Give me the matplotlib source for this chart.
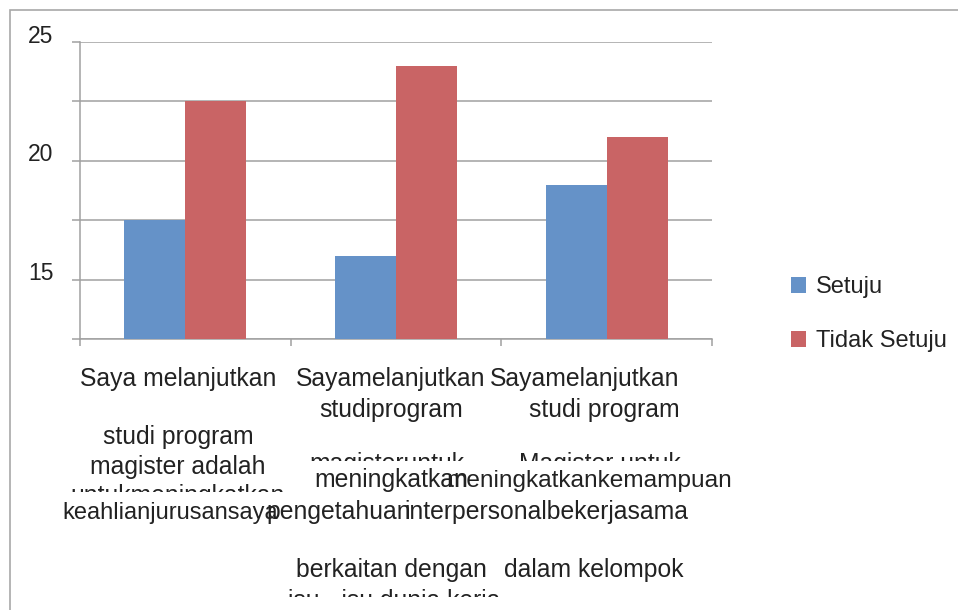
import matplotlib
matplotlib.use('Agg')
from matplotlib import pyplot as plt
from matplotlib import transforms
from matplotlib.patches import Rectangle
import numpy as np

# values
categories = ['Saya melanjutkan studi program magister (keahlian)',
              'Saya melanjutkan studi program magister (pengetahuan)',
              'Saya melanjutkan studi program magister (kerjasama)']
setuju = [17.5, 16, 19]
tidak_setuju = [22.5, 24, 21]
series_names = ['Setuju', 'Tidak Setuju']
yticks = [12.5, 15, 17.5, 20, 22.5, 25]
ytick_labels = ['', '15', '', '20', '', '25']

# the category labels come out garbled in the original, line by line
label_lines = [
    'Saya melanjutkan', 'studi program', 'magister adalah', 'untukmeningkatkan', 'keahlianjurusansaya',
    'Sayamelanjutkan', 'studiprogram', 'magisteruntuk', 'meningkatkan', 'pengetahuan',
    'berkaitan dengan', 'isu - isu dunia kerja',
    'Sayamelanjutkan', 'studi program', 'Magister untuk', 'meningkatkankemampuan',
    'interpersonalbekerjasama', 'dalam kelompok',
]
# layout of those lines: (x px, baseline px, align, clip below px or None, font size)
label_layout = [
    (178, 386, 'center', None, 17.8), (178, 444, 'center', None, 17.8), (178, 474, 'center', None, 17.8),
    (178, 503, 'center', 492, 17.8), (62, 519, 'left', None, 17.0),
    (391, 386, 'center', None, 17.8), (391, 417, 'center', None, 17.8), (387, 471, 'center', 461, 17.8),
    (391, 487, 'center', None, 17.8), (266, 519, 'left', None, 17.8),
    (296, 577, 'left', None, 17.8), (288, 608, 'left', 597, 17.8),
    (585, 386, 'center', None, 17.8), (604, 417, 'center', None, 17.8), (600, 471, 'center', 461, 17.8),
    (446, 487, 'left', None, 17.6), (404, 519, 'left', None, 17.8), (684, 577, 'right', None, 17.8),
]

blue = '#6592C8'
red = '#C96465'
grey = '#A0A0A0'
txt = '#222222'
W, H = 958, 610

plt.rcParams['font.family'] = ['Liberation Sans', 'DejaVu Sans']
fig = plt.figure(figsize=(W / 100, H / 100), dpi=100)

# outer frame of the pasted chart
fig.patches.append(Rectangle((10 / W, -0.05), 1.1, 1 - 10 / H + 0.05, transform=fig.transFigure,
                             fill=False, edgecolor='#A8A8A8', lw=1.2))

ax = fig.add_axes([80 / W, 1 - 339 / H, (712 - 80) / W, (339 - 42) / H])
x = np.arange(len(categories))
bw = 0.29
ax.bar(x - bw / 2, setuju, bw, color=blue, label=series_names[0], zorder=3)
ax.bar(x + bw / 2, tidak_setuju, bw, color=red, label=series_names[1], zorder=3)

ax.set_xlim(-0.5, len(categories) - 0.5)
ax.set_ylim(12.5, 25)
ax.set_yticks(yticks)
ax.set_yticklabels(ytick_labels, fontsize=16.5, color=txt)
ax.set_xticks(np.arange(len(categories) + 1) - 0.5)
ax.set_xticklabels([])
ax.yaxis.grid(True, color=grey, lw=1.1, zorder=0)
for s in ['top', 'right']:
    ax.spines[s].set_visible(False)
for s in ['left', 'bottom']:
    ax.spines[s].set_color(grey)
    ax.spines[s].set_linewidth(1.1)
ax.tick_params(axis='y', length=6, width=1.1, color=grey, pad=13)
ax.tick_params(axis='x', length=5, width=1.1, color=grey)

# y labels sit a little above their gridlines
shift = transforms.ScaledTranslation(0, 6 / 72, fig.dpi_scale_trans)
for lab in ax.get_yticklabels():
    lab.set_transform(lab.get_transform() + shift)

# category text lines
for line, (px, py, ha, clip, fs) in zip(label_lines, label_layout):
    t = fig.text(px / W, 1 - py / H, line, ha=ha, va='baseline', fontsize=fs, color=txt)
    if clip is not None:
        box = transforms.TransformedBbox(
            transforms.Bbox([[0, 1 - clip / H], [1, 1]]), fig.transFigure)
        t.set_clip_box(box)
        t.set_clip_on(True)

fig.legend(loc='center left', bbox_to_anchor=(791 / W, 1 - 314 / H), frameon=False,
           fontsize=17, handlelength=0.65, handleheight=0.65, handletextpad=0.4,
           labelspacing=1.35, borderpad=0, borderaxespad=0, labelcolor=txt)

fig.savefig('out.png', dpi=100, facecolor='white')
